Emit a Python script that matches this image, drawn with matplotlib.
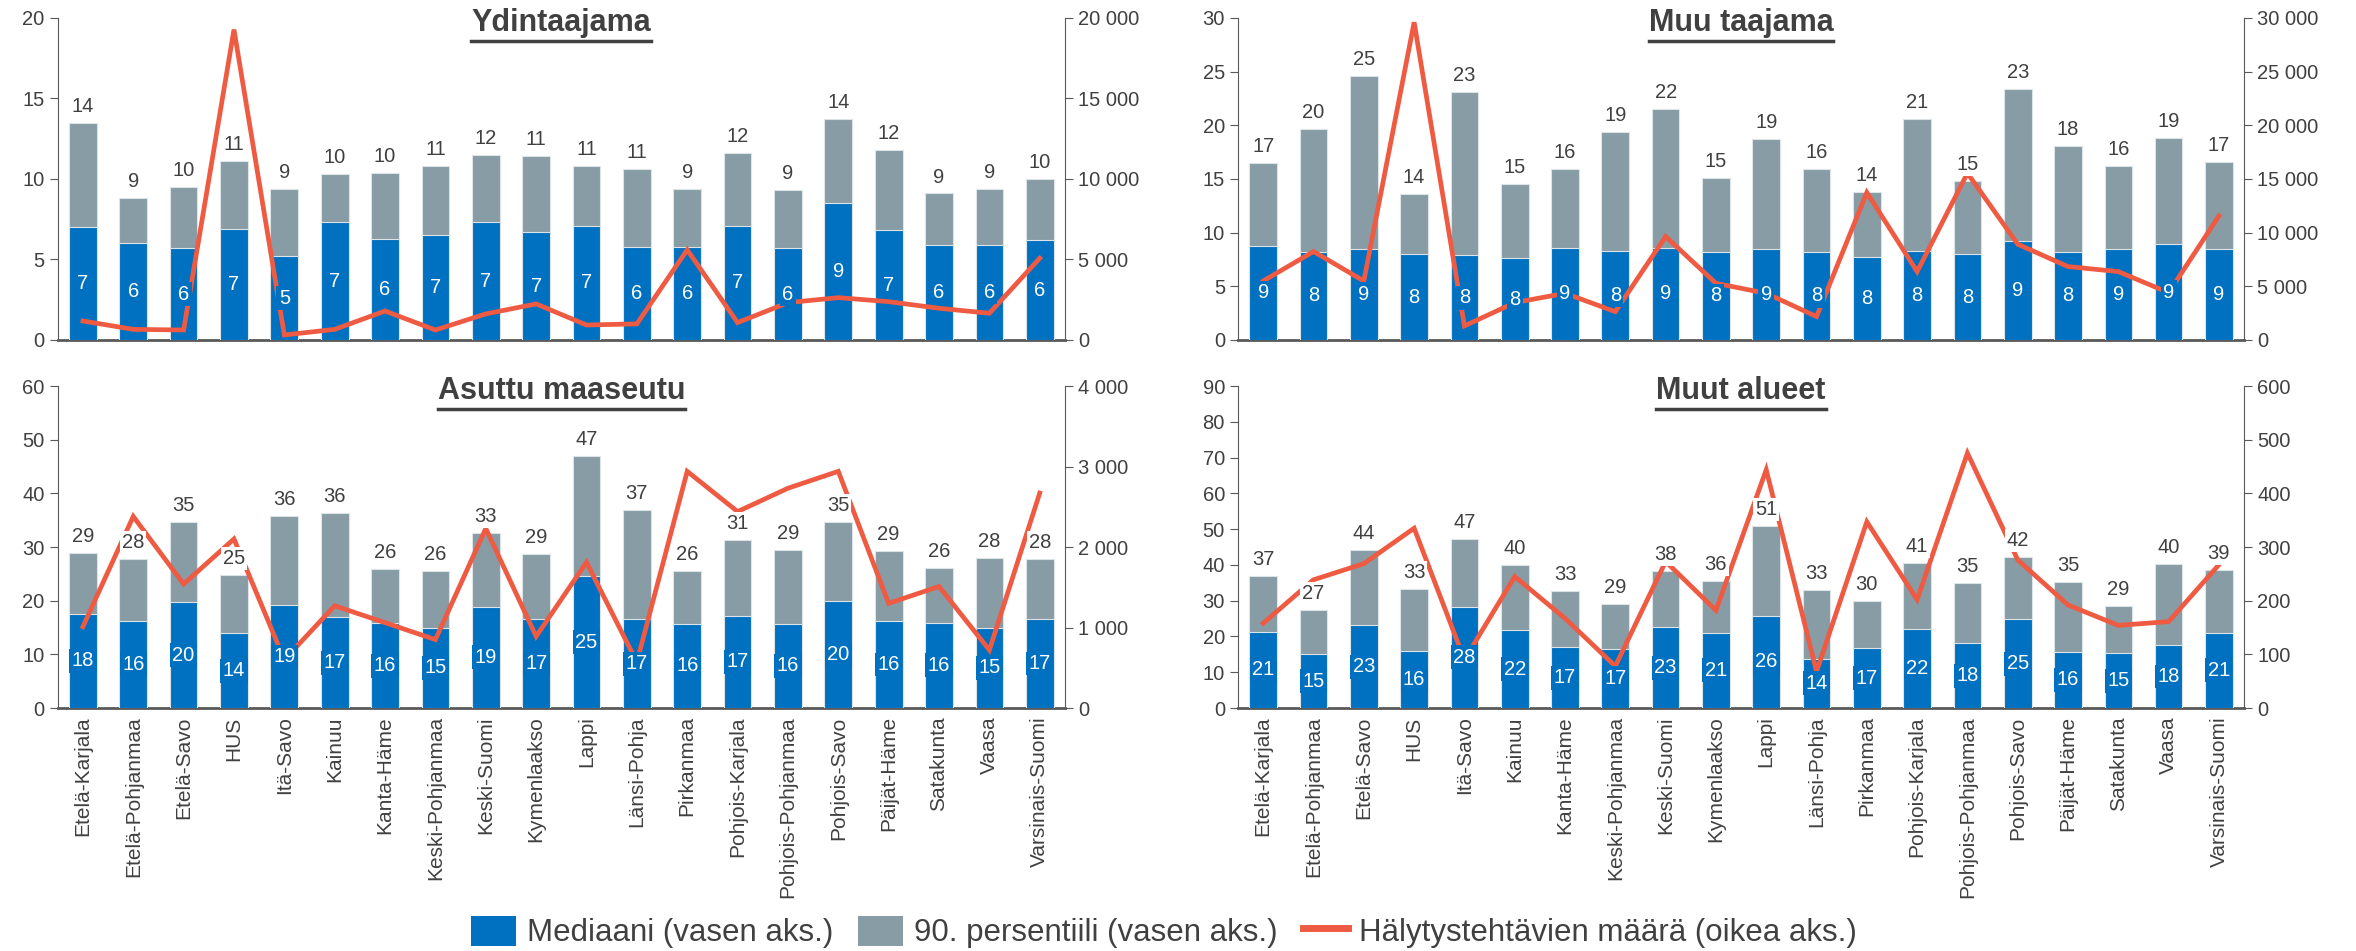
import numpy as np
import matplotlib
matplotlib.use('Agg')
import matplotlib.pyplot as plt
from matplotlib.patches import Patch
from matplotlib.lines import Line2D

plt.rcParams['font.family'] = ['Liberation Sans', 'DejaVu Sans']

# alueet (sama järjestys kaikissa paneeleissa)
regions = ['Etelä-Karjala', 'Etelä-Pohjanmaa', 'Etelä-Savo', 'HUS', 'Itä-Savo',
           'Kainuu', 'Kanta-Häme', 'Keski-Pohjanmaa', 'Keski-Suomi', 'Kymenlaakso',
           'Lappi', 'Länsi-Pohja', 'Pirkanmaa', 'Pohjois-Karjala', 'Pohjois-Pohjanmaa',
           'Pohjois-Savo', 'Päijät-Häme', 'Satakunta', 'Vaasa', 'Varsinais-Suomi']

# Ydintaajama
ydin_p90 = [13.5, 8.8, 9.5, 11.1, 9.4, 10.3, 10.4, 10.8, 11.5, 11.4,
            10.8, 10.6, 9.4, 11.6, 9.3, 13.7, 11.8, 9.1, 9.4, 10.0]
ydin_med = [7.0, 6.0, 5.7, 6.9, 5.2, 7.3, 6.3, 6.5, 7.3, 6.7,
            7.1, 5.8, 5.8, 7.1, 5.7, 8.5, 6.8, 5.9, 5.9, 6.2]
ydin_cnt = [1180, 660, 620, 19280, 310, 660, 1800, 620, 1620, 2240,
            930, 1000, 5600, 1080, 2320, 2630, 2380, 1970, 1660, 5080]

# Muu taajama
muu_p90 = [16.5, 19.7, 24.6, 13.6, 23.1, 14.5, 15.9, 19.4, 21.5, 15.1,
           18.7, 15.9, 13.8, 20.6, 14.8, 23.4, 18.1, 16.2, 18.8, 16.6]
muu_med = [8.8, 8.2, 8.5, 8.0, 7.9, 7.6, 8.6, 8.3, 8.6, 8.2,
           8.5, 8.2, 7.7, 8.3, 8.0, 9.2, 8.2, 8.5, 8.9, 8.5]
muu_cnt = [5500, 8240, 5500, 29600, 1310, 3480, 4350, 2640, 9640, 5280,
           4350, 2180, 13740, 6370, 15540, 8920, 6840, 6370, 4410, 11560]

# Asuttu maaseutu
mas_p90 = [28.9, 27.7, 34.7, 24.8, 35.7, 36.3, 25.9, 25.6, 32.6, 28.7,
           46.9, 36.9, 25.6, 31.3, 29.4, 34.6, 29.3, 26.1, 27.9, 27.8]
mas_med = [17.6, 16.3, 19.7, 13.9, 19.2, 16.9, 15.8, 15.0, 18.9, 16.6,
           24.6, 16.5, 15.7, 17.2, 15.7, 20.0, 16.2, 15.9, 15.0, 16.6]
mas_cnt = [1010, 2380, 1540, 2100, 600, 1270, 1060, 850, 2230, 890,
           1810, 570, 2940, 2440, 2730, 2940, 1300, 1510, 720, 2670]

# Muut alueet
mua_p90 = [37.0, 27.4, 44.1, 33.2, 47.3, 40.1, 32.8, 29.0, 38.4, 35.6,
           50.9, 32.9, 29.9, 40.6, 35.0, 42.1, 35.3, 28.6, 40.3, 38.6]
mua_med = [21.3, 15.1, 23.1, 15.8, 28.3, 21.7, 17.0, 16.6, 22.6, 21.1,
           25.8, 13.8, 16.7, 22.0, 18.1, 24.8, 15.7, 15.3, 17.6, 21.1]
mua_cnt = [158, 239, 269, 335, 90, 245, 167, 78, 273, 182,
           444, 68, 347, 202, 475, 276, 192, 154, 161, 267]

BLUE = '#0070C0'
GREY = '#879CA5'
RED = '#EE5B42'
TXT = '#404040'
AX = '#595959'


def fmt(v):
    # pyöristys puoliväli ylöspäin kuten Excelissä
    return str(int(np.floor(v + 0.5)))


def plot_panel(ax, title, p90, med, cnt, lmax, lstep, rmax, rstep, xlabels):
    x = np.arange(len(regions))
    ax.bar(x, p90, width=0.55, color=GREY, edgecolor='#dde4e8', linewidth=0.8, zorder=2)
    ax.bar(x, med, width=0.55, color=BLUE, edgecolor='#dde4e8', linewidth=0.8, zorder=3)
    ax.set_xlim(-0.5, len(regions) - 0.5)
    ax.set_ylim(0, lmax)
    ax.set_yticks(np.arange(0, lmax + 0.1, lstep))
    ax.tick_params(axis='y', labelsize=14.5, colors=TXT, length=6, color=AX)
    ax.spines['top'].set_visible(False)
    ax.spines['right'].set_visible(False)
    ax.spines['left'].set_color(AX)
    ax.spines['bottom'].set_color(AX)
    ax.spines['bottom'].set_linewidth(2)
    ax.set_xticks(x)
    if xlabels:
        ax.set_xticklabels(regions, rotation=90, fontsize=15, color=TXT)
    else:
        ax.set_xticklabels([])
    ax.tick_params(axis='x', length=0, pad=6)

    ax2 = ax.twinx()
    ax2.set_ylim(0, rmax)
    ax2.set_yticks(np.arange(0, rmax + 1, rstep))
    ax2.set_yticklabels([f'{v:,.0f}'.replace(',', ' ') for v in ax2.get_yticks()])
    ax2.tick_params(axis='y', labelsize=14.5, colors=TXT, length=6, color=AX)
    for s in ['top', 'left', 'bottom']:
        ax2.spines[s].set_visible(False)
    ax2.spines['right'].set_color(AX)
    ax2.plot(x, cnt, color=RED, lw=3.4, zorder=4, solid_joinstyle='miter')

    # arvolaatikot viivan päälle
    for i in range(len(regions)):
        yl = ax2.transData.inverted().transform(ax.transData.transform((i, med[i] / 2)))[1]
        ax2.text(i, yl, fmt(med[i]), ha='center', va='center', fontsize=14.5,
                 color='white', zorder=6,
                 bbox=dict(boxstyle='square,pad=0.12', fc=BLUE, ec='none'))
        yt = ax2.transData.inverted().transform(ax.transData.transform((i, p90[i])))[1]
        ax2.annotate(fmt(p90[i]), (i, yt), xytext=(0, 5), textcoords='offset points',
                     ha='center', va='bottom', fontsize=14.5, color=TXT, zorder=6,
                     bbox=dict(boxstyle='square,pad=0.1', fc='white', ec='none'))

    t = ax.text(0.5, 0.985, title, transform=ax.transAxes, ha='center', va='center',
                fontsize=22, fontweight='bold', color=TXT, zorder=7)
    return t


fig = plt.figure(figsize=(23.56, 9.51), dpi=100, facecolor='white')
ax_tl = fig.add_axes([0.0245, 0.6425, 0.4275, 0.3386])
ax_tr = fig.add_axes([0.5255, 0.6425, 0.4270, 0.3386])
ax_bl = fig.add_axes([0.0245, 0.2555, 0.4275, 0.3386])
ax_br = fig.add_axes([0.5255, 0.2555, 0.4270, 0.3386])

titles = [
    plot_panel(ax_tl, 'Ydintaajama', ydin_p90, ydin_med, ydin_cnt, 20, 5, 20000, 5000, False),
    plot_panel(ax_tr, 'Muu taajama', muu_p90, muu_med, muu_cnt, 30, 5, 30000, 5000, False),
    plot_panel(ax_bl, 'Asuttu maaseutu', mas_p90, mas_med, mas_cnt, 60, 10, 4000, 1000, True),
    plot_panel(ax_br, 'Muut alueet', mua_p90, mua_med, mua_cnt, 90, 10, 600, 100, True),
]

# alleviivaus otsikoille
fig.canvas.draw()
r = fig.canvas.get_renderer()
for t in titles:
    bb = t.get_window_extent(r)
    y = (bb.y0 - 3) / fig.bbox.height
    fig.add_artist(Line2D([bb.x0 / fig.bbox.width, bb.x1 / fig.bbox.width], [y, y],
                          color=TXT, lw=2.5))

handles = [Patch(facecolor=BLUE, edgecolor='none', label='Mediaani (vasen aks.)'),
           Patch(facecolor=GREY, edgecolor='none', label='90. persentiili (vasen aks.)'),
           Line2D([0], [0], color=RED, lw=5, label='Hälytystehtävien määrä (oikea aks.)')]
leg = fig.legend(handles=handles, loc='center', bbox_to_anchor=(0.494, 0.02), ncol=3,
                 frameon=False, fontsize=22.5, handlelength=1.45, handleheight=1.1,
                 handletextpad=0.35, columnspacing=0.8)
for txt in leg.get_texts():
    txt.set_color(TXT)

fig.savefig('out.png', dpi=100, facecolor='white')
